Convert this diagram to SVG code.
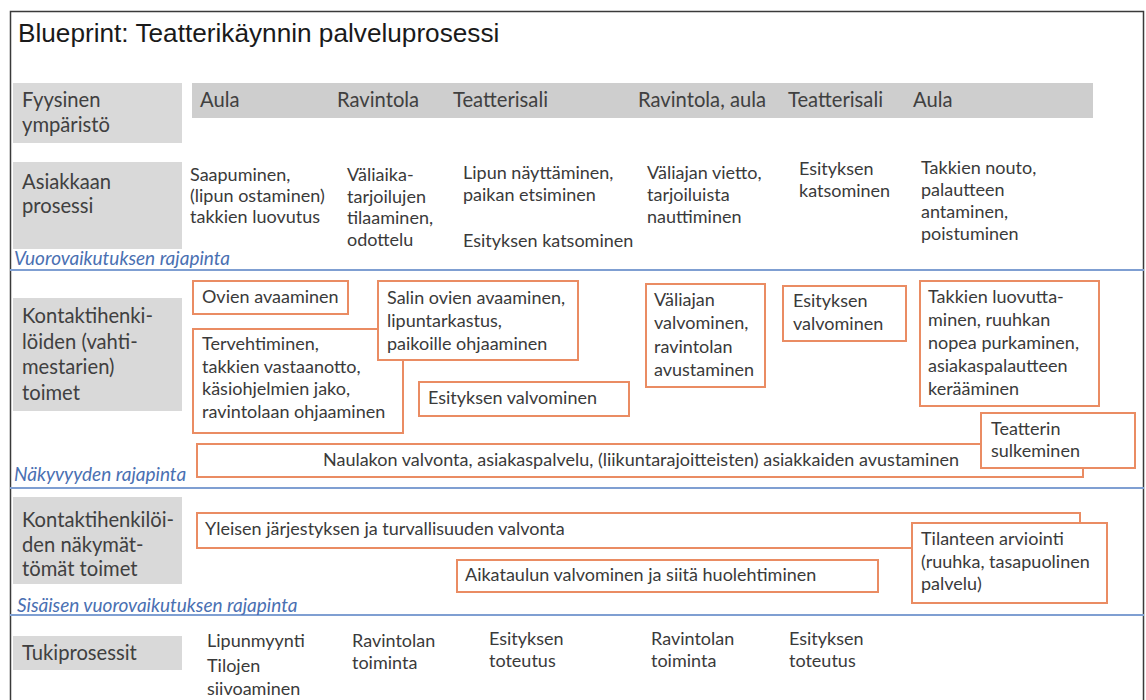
<svg xmlns="http://www.w3.org/2000/svg" width="1146" height="700" viewBox="0 0 1146 700">
<style>
.title{font-family:"Liberation Sans",Arial,sans-serif;font-size:26.2px;fill:#1a1a1a}
.lbl{font-family:Lato,"Noto Sans",sans-serif;font-size:20.2px;fill:#404040}
.t{font-family:Lato,"Noto Sans",sans-serif;font-size:18px;fill:#3a3a3a}
.bl{font-family:Lato,"Noto Sans",sans-serif;font-size:19px;font-style:italic;fill:#4a70b2}
.gray{fill:#d9d9d9}
.band{fill:#cecece}
.box{fill:#ffffff;stroke:#ea8c63;stroke-width:2}
.div{stroke:#7f9fd2;stroke-width:2;fill:none}
</style>
<rect x="0" y="0" width="1146" height="700" fill="#ffffff"/>
<path d="M10.5,700 V11.5 H1143.5 V700" fill="none" stroke="#3a3a3a" stroke-width="1.5"/>
<text class="title" x="18" y="42">Blueprint: Teatterikäynnin palveluprosessi</text>

<g id="dividers">
<line class="div" x1="10" y1="270" x2="1144" y2="270"/>
<line class="div" x1="10" y1="488" x2="1144" y2="488"/>
<line class="div" x1="10" y1="615" x2="1144" y2="615"/>
<text class="bl" x="14" y="265">Vuorovaikutuksen rajapinta</text>
<text class="bl" x="14" y="481">Näkyvyyden rajapinta</text>
<text class="bl" x="17" y="612">Sisäisen vuorovaikutuksen rajapinta</text>
</g>

<g id="connectors"></g>

<g id="row-physical">
<rect class="gray" x="13" y="83" width="169" height="60"/>
<text class="lbl" x="22" y="107">Fyysinen</text>
<text class="lbl" x="22" y="132">ympäristö</text>
<rect class="band" x="192" y="83" width="901" height="35"/>
<text class="lbl" x="200" y="107">Aula</text>
<text class="lbl" x="337" y="107">Ravintola</text>
<text class="lbl" x="453" y="107">Teatterisali</text>
<text class="lbl" x="638" y="107">Ravintola, aula</text>
<text class="lbl" x="788" y="107">Teatterisali</text>
<text class="lbl" x="913" y="107">Aula</text>
</g>

<g id="row-customer">
<rect class="gray" x="13" y="162" width="169" height="87"/>
<text class="lbl" x="22" y="189">Asiakkaan</text>
<text class="lbl" x="22" y="213">prosessi</text>
<text class="t" x="190" y="181"><tspan x="190">Saapuminen,</tspan><tspan x="190" dy="21">(lipun ostaminen)</tspan><tspan x="190" dy="21">takkien luovutus</tspan></text>
<text class="t" x="347" y="181"><tspan x="347">Väliaika-</tspan><tspan x="347" dy="21.5">tarjoilujen</tspan><tspan x="347" dy="21.5">tilaaminen,</tspan><tspan x="347" dy="21.5">odottelu</tspan></text>
<text class="t" x="463" y="179"><tspan x="463">Lipun näyttäminen,</tspan><tspan x="463" dy="21.5">paikan etsiminen</tspan><tspan x="463" y="247">Esityksen katsominen</tspan></text>
<text class="t" x="647" y="179"><tspan x="647">Väliajan vietto,</tspan><tspan x="647" dy="22">tarjoiluista</tspan><tspan x="647" dy="22">nauttiminen</tspan></text>
<text class="t" x="799" y="175"><tspan x="799">Esityksen</tspan><tspan x="799" dy="22">katsominen</tspan></text>
<text class="t" x="921" y="174"><tspan x="921">Takkien nouto,</tspan><tspan x="921" dy="22">palautteen</tspan><tspan x="921" dy="22">antaminen,</tspan><tspan x="921" dy="22">poistuminen</tspan></text>
</g>

<g id="row-contact-label">
<rect class="gray" x="13" y="298" width="169" height="113"/>
<text class="lbl" x="22" y="323"><tspan x="22">Kontaktihenki-</tspan><tspan x="22" dy="25.5">löiden (vahti-</tspan><tspan x="22" dy="25.5">mestarien)</tspan><tspan x="22" dy="25.5">toimet</tspan></text>
</g>
<g id="node-ovien">
<rect class="box" x="193" y="281" width="155" height="33"/>
<text class="t" x="202" y="303">Ovien avaaminen</text>
</g>
<g id="node-tervehtiminen">
<rect class="box" x="193" y="329" width="210" height="104"/>
<text class="t" x="202" y="350"><tspan x="202">Tervehtiminen,</tspan><tspan x="202" dy="22.5">takkien vastaanotto,</tspan><tspan x="202" dy="22.5">käsiohjelmien jako,</tspan><tspan x="202" dy="22.5">ravintolaan ohjaaminen</tspan></text>
</g>
<g id="node-salin">
<rect class="box" x="378" y="281" width="200" height="79"/>
<text class="t" x="387" y="304"><tspan x="387">Salin ovien avaaminen,</tspan><tspan x="387" dy="23">lipuntarkastus,</tspan><tspan x="387" dy="23">paikoille ohjaaminen</tspan></text>
</g>
<g id="node-esitys-valvonta-1">
<rect class="box" x="419" y="382" width="210" height="34"/>
<text class="t" x="428" y="404">Esityksen valvominen</text>
</g>
<g id="node-valiaika">
<rect class="box" x="646" y="284" width="119" height="103"/>
<text class="t" x="654" y="306"><tspan x="654">Väliajan</tspan><tspan x="654" dy="23.3">valvominen,</tspan><tspan x="654" dy="23.3">ravintolan</tspan><tspan x="654" dy="23.3">avustaminen</tspan></text>
</g>
<g id="node-esitys-valvonta-2">
<rect class="box" x="783" y="286" width="123" height="55"/>
<text class="t" x="793" y="307"><tspan x="793">Esityksen</tspan><tspan x="793" dy="23">valvominen</tspan></text>
</g>
<g id="node-takkien">
<rect class="box" x="920" y="281" width="179" height="125"/>
<text class="t" x="928" y="303"><tspan x="928">Takkien luovutta-</tspan><tspan x="928" dy="23.1">minen, ruuhkan</tspan><tspan x="928" dy="23.1">nopea purkaminen,</tspan><tspan x="928" dy="23.1">asiakaspalautteen</tspan><tspan x="928" dy="23.1">kerääminen</tspan></text>
</g>
<g id="node-naulakko">
<rect class="box" x="197" y="444" width="886" height="33"/>
<text class="t" x="641" y="466" text-anchor="middle">Naulakon valvonta, asiakaspalvelu, (liikuntarajoitteisten) asiakkaiden avustaminen</text>
</g>
<g id="node-sulkeminen">
<rect class="box" x="981" y="413" width="154" height="55"/>
<text class="t" x="991" y="435"><tspan x="991">Teatterin</tspan><tspan x="991" dy="22">sulkeminen</tspan></text>
</g>

<g id="row-invisible-label">
<rect class="gray" x="13" y="497" width="169" height="87"/>
<text class="lbl" x="22" y="527"><tspan x="22">Kontaktihenkilöi-</tspan><tspan x="22" dy="24.5">den näkymät-</tspan><tspan x="22" dy="24.5">tömät toimet</tspan></text>
</g>
<g id="node-yleinen">
<rect class="box" x="197" y="513" width="883" height="35"/>
<text class="t" x="205" y="535">Yleisen järjestyksen ja turvallisuuden valvonta</text>
</g>
<g id="node-tilanne">
<rect class="box" x="912" y="523" width="195" height="80"/>
<text class="t" x="921" y="545"><tspan x="921">Tilanteen arviointi</tspan><tspan x="921" dy="22.5">(ruuhka, tasapuolinen</tspan><tspan x="921" dy="22.5">palvelu)</tspan></text>
</g>
<g id="node-aikataulu">
<rect class="box" x="457" y="560" width="421" height="32"/>
<text class="t" x="465" y="581">Aikataulun valvominen ja siitä huolehtiminen</text>
</g>

<g id="row-support">
<rect class="gray" x="13" y="636" width="169" height="34"/>
<text class="lbl" x="22" y="660">Tukiprosessit</text>
<text class="t" x="207" y="647"><tspan x="207">Lipunmyynti</tspan><tspan x="207" y="672">Tilojen</tspan><tspan x="207" y="695">siivoaminen</tspan></text>
<text class="t" x="352" y="647"><tspan x="352">Ravintolan</tspan><tspan x="352" dy="22">toiminta</tspan></text>
<text class="t" x="489" y="645"><tspan x="489">Esityksen</tspan><tspan x="489" dy="22">toteutus</tspan></text>
<text class="t" x="651" y="645"><tspan x="651">Ravintolan</tspan><tspan x="651" dy="22">toiminta</tspan></text>
<text class="t" x="789" y="645"><tspan x="789">Esityksen</tspan><tspan x="789" dy="22">toteutus</tspan></text>
</g>
</svg>
